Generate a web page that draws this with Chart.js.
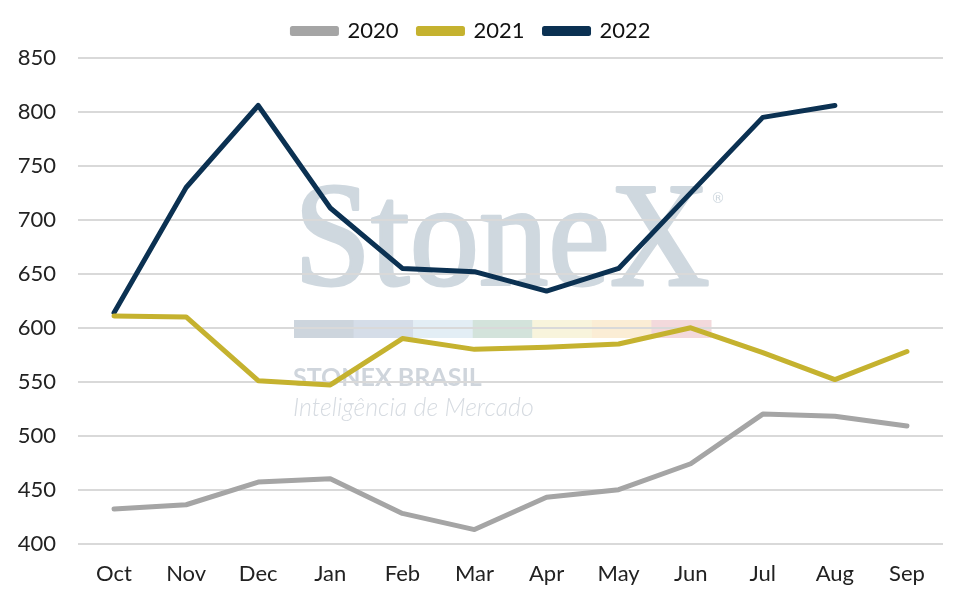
<!DOCTYPE html>
<html>
<head>
<meta charset="utf-8">
<script src="https://cdn.jsdelivr.net/npm/chart.js@4"></script>
<style>
  html, body { margin: 0; padding: 0; background: #fff; }
  #wrap { width: 966px; height: 604px; }
</style>
</head>
<body>
<div id="wrap"><canvas id="myLineChart" width="966" height="604"></canvas></div>
<script>
const months = ["Oct", "Nov", "Dec", "Jan", "Feb", "Mar", "Apr", "May", "Jun", "Jul", "Aug", "Sep"];
const values2020 = [432, 436, 457, 460, 428, 413, 443, 450, 474, 520, 518, 509];
const values2021 = [611, 610, 551, 547, 590, 580, 582, 585, 600, 577, 552, 578];
const values2022 = [614, 730, 806, 711, 655, 652, 634, 655, 725, 795, 806, null];

// watermark, drawn before the grid so grid lines sit on top of it
const watermark = {
  id: "watermark",
  afterInit(chart) {
    // a bit more room under the legend
    const lg = chart.legend;
    const fit = lg.fit.bind(lg);
    lg.fit = function () { fit(); this.height += 6; };
  },
  beforeDraw(chart) {
    const ctx = chart.ctx;
    ctx.save();
    ctx.fillStyle = "#cfd8df";
    ctx.strokeStyle = "#cfd8df";
    ctx.lineWidth = 3;
    ctx.lineJoin = "round";
    ctx.textBaseline = "alphabetic";
    ctx.textAlign = "left";
    ctx.font = "148px 'Liberation Serif', serif";
    const w = ctx.measureText("StoneX").width;
    ctx.save();
    ctx.translate(294, 285);
    ctx.scale(416 / w, 1);
    ctx.fillText("StoneX", 0, 0);
    ctx.strokeText("StoneX", 0, 0);
    ctx.restore();
    ctx.font = "14px 'DejaVu Sans', sans-serif";
    ctx.fillText("®", 711, 203);

    const bar = ["#cdd5dd", "#d5dde8", "#e3eef5", "#d3e3db", "#f8f4dc", "#fbedd5", "#f3d9dc"];
    const segW = (711 - 294) / bar.length;
    bar.forEach((c, i) => {
      ctx.fillStyle = c;
      ctx.fillRect(294 + i * segW, 320, segW + 0.5, 18);
    });

    ctx.fillStyle = "#cfd5dc";
    ctx.font = "bold 25px Lato, sans-serif";
    ctx.fillText("STONEX BRASIL", 293, 386);
    ctx.fillStyle = "#d6dbe1";
    ctx.font = "italic 300 25px Lato, sans-serif";
    ctx.fillText("Inteligência de Mercado", 293, 416);
    ctx.restore();
  }
};

const ctx = document.getElementById("myLineChart").getContext("2d");
new Chart(ctx, {
  type: "line",
  data: {
    labels: months,
    datasets: [
      { label: "2020", data: values2020, borderColor: "#a5a5a5", backgroundColor: "#a5a5a5" },
      { label: "2021", data: values2021, borderColor: "#c5b22f", backgroundColor: "#c5b22f" },
      { label: "2022", data: values2022, borderColor: "#0b3152", backgroundColor: "#0b3152" },
    ],
  },
  options: {
    responsive: false,
    devicePixelRatio: 1,
    animation: false,
    layout: { padding: { top: 0, right: 23, bottom: 8, left: 0 } },
    elements: {
      line: { borderWidth: 5, tension: 0, borderCapStyle: "round", borderJoinStyle: "round" },
      point: { radius: 0 },
    },
    plugins: {
      legend: {
        position: "top",
        labels: {
          boxWidth: 44,
          boxHeight: 5,
          padding: 20,
          color: "#111",
          font: { family: "Lato, sans-serif", size: 22 },
        },
      },
      tooltip: { enabled: false },
    },
    scales: {
      x: {
        type: "category",
        offset: true,
        grid: { display: false },
        border: { display: false },
        ticks: { color: "#222", padding: 9, font: { family: "Lato, sans-serif", size: 22 } },
      },
      y: {
        min: 400,
        max: 850,
        grid: { color: "#d9d9d9", lineWidth: 2, drawTicks: false },
        border: { display: false },
        ticks: { stepSize: 50, color: "#222", padding: 22, font: { family: "Lato, sans-serif", size: 22 } },
        afterFit(scale) { scale.width = 78; },
      },
    },
  },
  plugins: [watermark],
});
</script>
</body>
</html>
